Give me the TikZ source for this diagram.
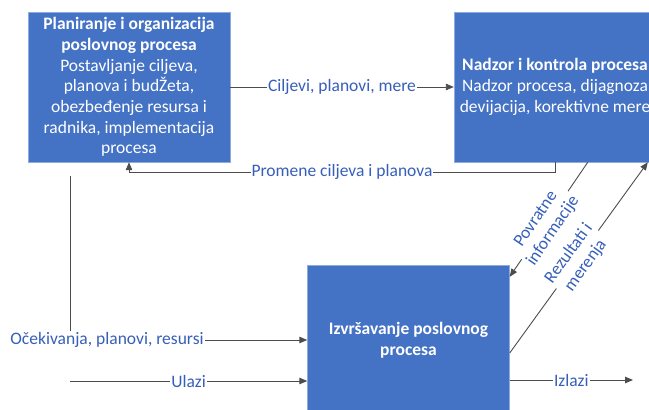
\documentclass[tikz,border=0pt]{standalone}
\usepackage{fontspec}
\setmainfont{Carlito}
\usepackage{tikz}
\usetikzlibrary{arrows.meta}
\definecolor{okvir}{RGB}{68,114,196}
\definecolor{natpis}{RGB}{55,95,185}
\newcommand{\velicina}{\fontsize{17.5}{20.7}\selectfont}
\tikzstyle{proces} = [draw=okvir!60!white, fill=okvir, text=white, minimum width=202pt, minimum height=150pt, align=center, inner sep=0pt, font=\velicina]
\tikzstyle{veza} = [draw=black!70, line width=0.9pt, -{Triangle[length=8pt,width=6.5pt]}]
\tikzstyle{oznaka} = [fill=white, text=natpis, inner sep=1pt, font=\velicina]

\begin{document}
\begin{tikzpicture}[x=1pt, y=-1pt]
			\useasboundingbox (0,0) rectangle (649,410);
			\node[proces] (plan) at (129, 87) {\textbf{Planiranje i organizacija}\\ \textbf{poslovnog procesa}\\ Postavljanje ciljeva,\\ planova i budŽeta,\\ obezbeđenje resursa i\\ radnika, implementacija\\ procesa};
			\node[proces] (nadzor) at (555, 87) {\textbf{Nadzor i kontrola procesa}\\ Nadzor procesa, dijagnoza\\ devijacija, korektivne mere};
			\node[proces] (izvr) at (408.5, 340) {\textbf{Izvršavanje poslovnog}\\ \textbf{procesa}};
			\coordinate (ocek) at (70, 176);
			\coordinate (ulaz) at (70, 381);
			\coordinate (izlaz) at (633, 380);
			\draw[veza] (plan) -- node[oznaka] {Ciljevi, planovi, mere} (nadzor);
			\draw[veza] (nadzor.south) -- ++(0, 10) -| node[oznaka, pos=0.25] {Promene ciljeva i planova} (plan.south);
			\draw[veza] (ocek) |- node[oznaka, pos=0.578] {Očekivanja, planovi, resursi} (izvr.west);
			\draw[veza] (ulaz) -- node[oznaka] {Ulazi} (izvr.west |- ulaz);
			\draw[veza] (izvr.east |- izlaz) -- node[oznaka] {Izlazi} (izlaz);
			\draw[veza] ([xshift=134pt]nadzor.south west) -- node[oznaka, sloped, align=center, pos=0.55] {Povratne\\ informacije} ([yshift=-12pt]izvr.north east);
			\draw[veza] ([yshift=-13pt]izvr.east) -- node[oznaka, sloped, align=center, pos=0.49] {Rezultati i\\ merenja} ([xshift=194pt]nadzor.south west);
		\end{tikzpicture}
\end{document}
